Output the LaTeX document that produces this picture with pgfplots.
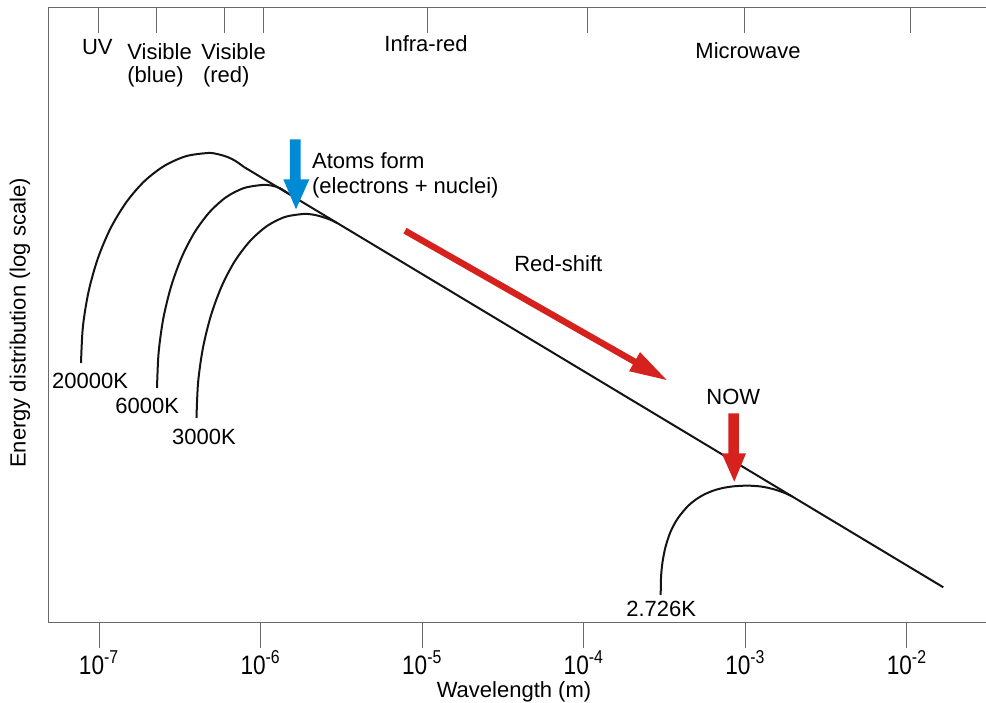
\documentclass[border=0pt]{standalone}
\usepackage{fontspec}
\setmainfont{Liberation Sans}
\newfontfamily\narrowfont[FakeStretch=0.85]{Liberation Sans}
\usepackage{pgfplots}
\pgfplotsset{compat=1.18}
\definecolor{axgray}{RGB}{105,105,105}
\definecolor{curvecol}{RGB}{20,20,20}
\definecolor{atomblue}{RGB}{0,138,214}
\definecolor{shiftred}{RGB}{214,34,30}
\newcommand\lab{\fontsize{11}{13}\selectfont}
\begin{document}
\begin{tikzpicture}
\begin{axis}[
  width=468.85pt, height=307.5pt, scale only axis,
  xmin=-7.3144, xmax=-1.5107, ymin=0, ymax=615,
  axis x line*=box, axis y line*=left,
  axis line style={axgray, line width=0.5pt},
  xtick={-7,-6,-5,-4,-3,-2},
  xticklabels={10\textsuperscript{-7},10\textsuperscript{-6},10\textsuperscript{-5},10\textsuperscript{-4},10\textsuperscript{-3},10\textsuperscript{-2}},
  xtick pos=left, tick align=outside,
  major tick length=12.7pt,
  tick style={axgray, line width=0.5pt},
  ytick=\empty,
  xticklabel style={font=\narrowfont\fontsize{13.3}{16}\selectfont, text=black, inner sep=0pt, yshift=-1.4pt},
  clip=false,
  curve/.style={curvecol, line width=1pt, smooth, no marks},
]
\coordinate (SW) at (rel axis cs:0,0);
\coordinate (NE) at (rel axis cs:1,1);
% 20000 K
\addplot[curve] coordinates {
(-7.1120,259.3) (-7.1001,295.8) (-7.0646,331.1) (-7.0067,364.3) (-6.9282,394.3)
(-6.8310,420.2) (-6.7190,441.2) (-6.5946,456.6) (-6.4622,466.1) (-6.3260,469.3)
(-6.2641,468.1) (-6.2022,465.1) (-6.1527,461.0) (-6.1032,455.3)};
% Rayleigh-Jeans tail
\addplot[curvecol, line width=1pt, no marks] coordinates {(-6.1032,455.3) (-1.7750,35.0)};
% 6000 K
\addplot[curve] coordinates {
(-6.6416,234.3) (-6.6317,269.5) (-6.6027,303.7) (-6.5544,335.8) (-6.4894,364.8)
(-6.4095,389.8) (-6.3167,410.1) (-6.2140,425.1) (-6.1044,434.2) (-5.9918,437.3)
(-5.9299,436.7) (-5.8804,434.1) (-5.8308,428.9)};
% 3000 K
\addplot[curve] coordinates {
(-6.3972,204.3) (-6.3873,239.7) (-6.3576,274.1) (-6.3087,306.3) (-6.2431,335.4)
(-6.1620,360.6) (-6.0673,381.0) (-5.9633,396.0) (-5.8525,405.2) (-5.7380,408.3)
(-5.6761,407.7) (-5.6204,405.5) (-5.5709,402.7) (-5.5276,399.4)};
% 2.726 K
\addplot[curve] coordinates {
(-3.5241,27.3) (-3.5216,46.2) (-3.5129,60.1) (-3.4962,74.2) (-3.4690,88.2)
(-3.4412,97.8) (-3.4133,105.1) (-3.3582,115.8) (-3.3031,123.2) (-3.2474,128.4)
(-3.1923,132.0) (-3.1373,134.4) (-3.0822,135.8) (-3.0265,136.5) (-2.9714,136.6)
(-2.9095,135.9) (-2.8600,134.5) (-2.8105,132.4) (-2.7610,129.6) (-2.7114,126.0)};
% arrows
\fill[atomblue] (axis cs:-5.8185,483) -- (axis cs:-5.7522,483) -- (axis cs:-5.7522,443)
  -- (axis cs:-5.6990,443) -- (axis cs:-5.7813,413) -- (axis cs:-5.8599,443)
  -- (axis cs:-5.8185,443) -- cycle;
\fill[shiftred] (axis cs:-3.1057,209.0) -- (axis cs:-3.0395,209.0) -- (axis cs:-3.0395,169.0)
  -- (axis cs:-2.9961,169.0) -- (axis cs:-3.0686,140.6) -- (axis cs:-3.1465,169.0)
  -- (axis cs:-3.1057,169.0) -- cycle;
\fill[shiftred] (axis cs:-5.0969,394.38) -- (axis cs:-3.6760,263.41) -- (axis cs:-3.6521,270.18)
  -- (axis cs:-3.4870,242.3) -- (axis cs:-3.7196,251.08) -- (axis cs:-3.6957,257.85)
  -- (axis cs:-5.1165,388.82) -- cycle;
% texts
\node[anchor=base west, inner sep=0, font=\lab] at (axis cs:-7.1077,567.3) {UV};
\node[anchor=base west, inner sep=0, font=\lab] at (axis cs:-6.8273,563.0) {Visible};
\node[anchor=base west, inner sep=0, font=\lab] at (axis cs:-6.8273,539.3) {(blue)};
\node[anchor=base west, inner sep=0, font=\lab] at (axis cs:-6.3693,563.0) {Visible};
\node[anchor=base west, inner sep=0, font=\lab] at (axis cs:-6.3588,539.3) {(red)};
\node[anchor=base, inner sep=0, font=\lab] at (axis cs:-4.9767,570.3) {Infra-red};
\node[anchor=base, inner sep=0, font=\lab] at (axis cs:-2.9838,563.3) {Microwave};
\node[anchor=base west, inner sep=0, font=\lab] at (axis cs:-5.6842,454.0) {Atoms form};
\node[anchor=base west, inner sep=0, font=\lab] at (axis cs:-5.6842,428.3) {(electrons + nuclei)};
\node[anchor=base, inner sep=0, font=\lab] at (axis cs:-4.1579,350.6) {Red-shift};
\node[anchor=base, inner sep=0, font=\lab] at (axis cs:-3.0747,217.3) {NOW};
\node[anchor=base west, inner sep=0, font=\lab] at (axis cs:-7.2934,234.0) {20000K};
\node[anchor=base west, inner sep=0, font=\lab] at (axis cs:-6.9016,209.0) {6000K};
\node[anchor=base west, inner sep=0, font=\lab] at (axis cs:-6.5507,177.3) {3000K};
\node[anchor=base west, inner sep=0, font=\lab] at (axis cs:-3.7389,5.6) {2.726K};
\node[anchor=base, inner sep=0, font=\lab] at (axis cs:-4.4321,-75.6) {Wavelength (m)};
\node[rotate=90, anchor=center, inner sep=0, font=\lab] at ([xshift=-14.15pt]axis cs:-7.3144,299.3) {Energy distribution (log scale)};
\end{axis}
\begin{axis}[
  width=468.85pt, height=307.5pt, scale only axis,
  xmin=-7.3144, xmax=-1.5107, ymin=0, ymax=615,
  axis x line*=top, axis y line=none,
  axis line style={axgray, line width=0.5pt},
  xtick={-7.0025,-6.6435,-6.2251,-5.9794,-4.9662,-3.9802,-3.0048,-1.9811},
  xticklabels={}, tick align=inside, major tick length=13pt,
  tick style={axgray, line width=0.5pt}, ytick=\empty,
]
\end{axis}
\pgfresetboundingbox
\path[use as bounding box] ([xshift=-24.15pt,yshift=-39.85pt]SW) rectangle ([yshift=3.65pt]NE);
\end{tikzpicture}
\end{document}
